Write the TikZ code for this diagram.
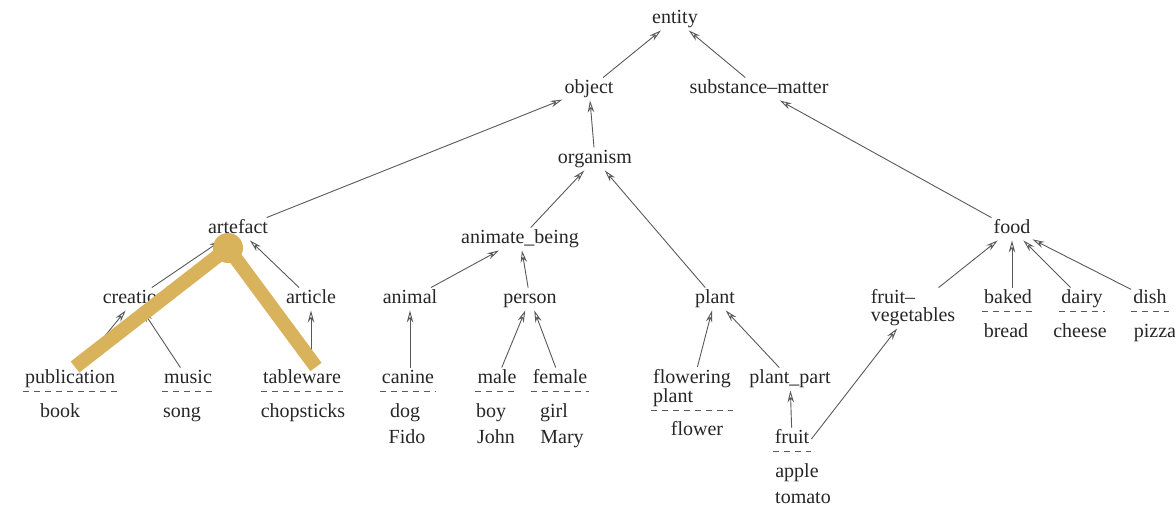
\documentclass[tikz,border=0pt]{standalone}
\usepackage{fontspec}
\setmainfont{Liberation Serif}
\usetikzlibrary{arrows.meta}
\definecolor{mustard}{RGB}{217,178,92}

\begin{document}
\begin{tikzpicture}[x=1pt, y=-1pt,
		lab/.style={font=\fontsize{20}{21}\selectfont, text=black!85, inner sep=2pt, text height=14pt, text depth=4.5pt, yshift=-2pt},
		labtwo/.style={font=\fontsize{20}{18}\selectfont, text=black!85, inner sep=2pt, align=left, yshift=-2pt},
		isa/.style={draw=black!65, line width=0.9pt, -{Stealth[open, length=12pt, width=6.5pt]}},
		lexsep/.style={draw=black!65, line width=0.8pt, dash pattern=on 6pt off 5pt}]
		%%%%% START %%%%%
		\useasboundingbox (0, 0) rectangle (1175, 507);
		
		% top of the hierarchy
		\node[lab] (entity) at (675, 17) {entity};
		\node[lab] (object) at (589, 87) {object};
		\node[lab] (substance) at (759, 87) {substance--matter};
		\node[lab] (organism) at (595, 157) {organism};
		\node[lab] (artefact) at (238, 227) {artefact};
		\node[lab] (animate) at (520, 237) {animate\_being};
		\node[lab] (food) at (1012, 227) {food};
		
		% middle row
		\node[lab] (creation) at (135, 297) {creation};
		\node[lab] (article) at (311, 297) {article};
		\node[lab] (animal) at (410, 297) {animal};
		\node[lab] (person) at (530, 297) {person};
		\node[lab] (plant) at (715, 297) {plant};
		\node[labtwo] (fruitveg) at (913, 306) {fruit--\\vegetables};
		\node[lab] (baked) at (1008, 297) {baked};
		\node[lab] (dairy) at (1082, 297) {dairy};
		\node[lab] (dish) at (1150, 297) {dish};
		
		% bottom row
		\node[lab] (publication) at (70, 377) {publication};
		\node[lab] (music) at (188, 377) {music};
		\node[lab] (tableware) at (302, 377) {tableware};
		\node[lab] (canine) at (408, 377) {canine};
		\node[lab] (male) at (497, 377) {male};
		\node[lab] (female) at (560, 377) {female};
		\node[labtwo] (flowering) at (692, 386) {flowering\\plant};
		\node[lab] (plantpart) at (790, 377) {plant\_part};
		\node[lab] (fruit) at (792, 437) {fruit};
		
		% dashed separators
		\foreach \n in {publication, music, tableware, canine, male, female, flowering, fruit, baked, dairy, dish}
			\draw[lexsep] ([yshift=-1pt]\n.south west) -- ([yshift=-1pt]\n.south east);
		
		% words
		\node[lab] (book) at (60, 411) {book};
		\node[lab] (song) at (182, 411) {song};
		\node[lab] (chopsticks) at (303, 411) {chopsticks};
		\node[lab] (dog) at (405, 411) {dog};
		\node[lab] (fido) at (407, 437) {Fido};
		\node[lab] (boy) at (491, 411) {boy};
		\node[lab] (john) at (496, 437) {John};
		\node[lab] (girl) at (554, 411) {girl};
		\node[lab] (mary) at (562, 437) {Mary};
		\node[lab] (flower) at (697, 429) {flower};
		\node[lab] (apple) at (797, 471) {apple};
		\node[lab] (tomato) at (803, 497) {tomato};
		\node[lab] (bread) at (1006, 331) {bread};
		\node[lab] (cheese) at (1080, 331) {cheese};
		\node[lab] (pizza) at (1155, 331) {pizza};
		
		% is-a links
		\draw[isa] (object) -- (entity);
		\draw[isa] (substance) -- (entity);
		\draw[isa] (organism) -- (object);
		\draw[isa] (artefact) -- (object);
		\draw[isa] (food) -- (substance);
		\draw[isa] (animate) -- (organism);
		\draw[isa] (plant) -- (organism);
		\draw[isa] (creation) -- (artefact);
		\draw[isa] (article) -- (artefact);
		\draw[isa] (animal) -- (animate);
		\draw[isa] (person) -- (animate);
		\draw[isa] (publication) -- (creation);
		\draw[isa] (music) -- (creation);
		\draw[isa] (tableware.north -| article) -- (article);
		\draw[isa] (canine.north -| animal) -- (animal);
		\draw[isa] (male) -- (person);
		\draw[isa] (female) -- (person);
		\draw[isa] (flowering) -- (plant);
		\draw[isa] (plantpart) -- (plant);
		\draw[isa] (fruit) -- (plantpart);
		\draw[isa] (fruit.east) -- (fruitveg);
		\draw[isa] (fruitveg) -- (food);
		\draw[isa] (baked.north -| food) -- (food);
		\draw[isa] (dairy) -- (food);
		\draw[isa] (dish) -- (food);
		
		% highlighted path
		\coordinate (hl) at (228, 248);
		\draw[mustard, line width=14pt] (75, 367) -- (hl) -- (316, 367);
		\fill[mustard] (hl) circle (15);
		%%%%% END %%%%%
\end{tikzpicture}
\end{document}
